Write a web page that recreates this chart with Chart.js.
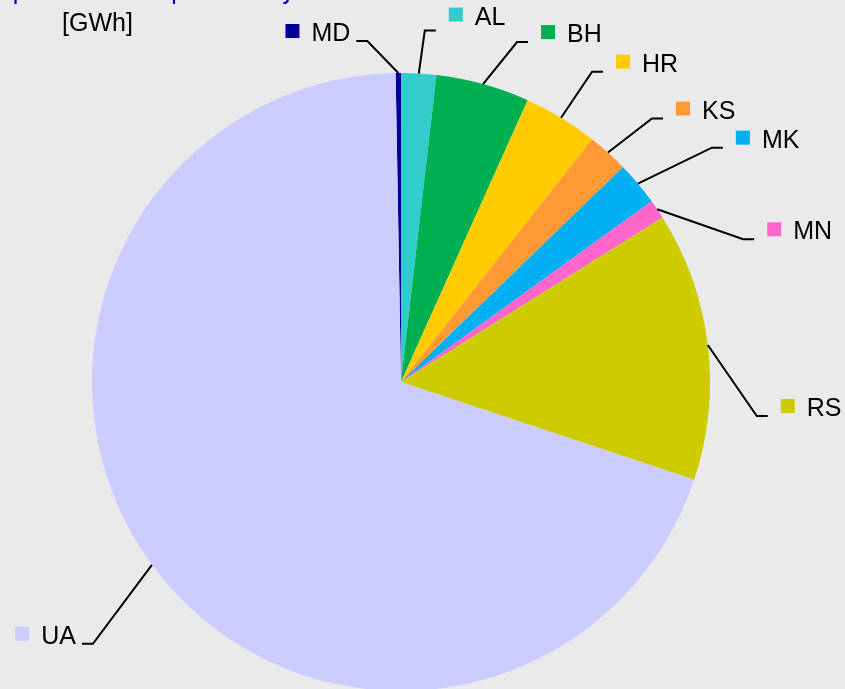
<!DOCTYPE html>
<html>
<head>
<meta charset="utf-8">
<script src="https://cdn.jsdelivr.net/npm/chart.js@4/dist/chart.umd.min.js"></script>
<style>
  html, body { margin: 0; padding: 0; background: #eaeaea; overflow: hidden; }
  #wrap { position: relative; width: 845px; height: 689px; }
</style>
</head>
<body>
<div id="wrap"><canvas id="c"></canvas></div>
<script>
// ---- data (GWh) ----
const categories = ['MD', 'AL', 'BH', 'HR', 'KS', 'MK', 'MN', 'RS', 'UA'];
const values     = [28, 183, 489, 389, 214, 231, 100, 1406, 6961];
const colors     = ['#000099', '#33cccc', '#00b050', '#ffcc00', '#ff9933', '#00b0f0', '#ff66cc', '#cccc00', '#ccccff'];
const titleText  = 'Import shares in percent: by member';
const unitText   = '[GWh]';

// ---- label layout (leader-line elbow offsets from slice anchor) ----
const labelLayout = [
  { dx: -31, dy: -32, side: 'left',  ty: 0 },
  { dx:   6, dy: -43, side: 'right', ty: -6 },
  { dx:  34, dy: -42, side: 'right', ty: 0 },
  { dx:  31, dy: -46, side: 'right', ty: 0 },
  { dx:  44, dy: -34, side: 'right', ty: 0 },
  { dx:  74, dy: -36, side: 'right', ty: 0 },
  { dx:  86, dy:  30, side: 'right', ty: 0 },
  { dx:  49, dy:  71, side: 'right', ty: 0 },
  { dx: -59, dy:  79, side: 'left',  ty: 0 }
];

const FONT = '25px "Liberation Sans", Arial, sans-serif';

const labelPlugin = {
  id: 'leaderLabels',
  afterDatasetsDraw(chart) {
    const ctx = chart.ctx;
    const meta = chart.getDatasetMeta(0);
    ctx.save();
    ctx.font = FONT;
    meta.data.forEach((arc, i) => {
      const p = arc.getProps(['x', 'y', 'startAngle', 'endAngle', 'outerRadius'], true);
      const mid = (p.startAngle + p.endAngle) / 2;
      const ax = p.x + Math.cos(mid) * p.outerRadius;
      const ay = p.y + Math.sin(mid) * p.outerRadius;
      const L = labelLayout[i];
      const ex = ax + L.dx, ey = ay + L.dy;
      const dir = L.side === 'left' ? -1 : 1;
      const sx = ex + dir * 11;
      ctx.strokeStyle = '#000';
      ctx.lineWidth = 2;
      ctx.beginPath();
      ctx.moveTo(ax, ay);
      ctx.lineTo(ex, ey);
      ctx.lineTo(sx, ey);
      ctx.stroke();
      const base = ey + L.ty;
      const text = categories[i];
      const w = ctx.measureText(text).width;
      let sqX, txX;
      if (dir > 0) {
        sqX = sx + 13;
        txX = sqX + 14 + 12;
      } else {
        txX = sx - 6 - w;
        sqX = txX - 12 - 14;
      }
      ctx.fillStyle = colors[i];
      ctx.fillRect(sqX, base - 17, 14, 14);
      ctx.fillStyle = '#000';
      ctx.textAlign = 'left';
      ctx.textBaseline = 'alphabetic';
      ctx.fillText(text, txX, base);
    });
    // title (mostly above the visible area) and unit
    ctx.fillStyle = '#0000cc';
    ctx.textAlign = 'left';
    ctx.textBaseline = 'alphabetic';
    ctx.fillText(titleText, -15, -1);
    ctx.fillStyle = '#000';
    ctx.fillText(unitText, 62, 31);
    ctx.restore();
  }
};

new Chart(document.getElementById('c'), {
  type: 'pie',
  data: {
    labels: categories,
    datasets: [{
      data: values,
      backgroundColor: colors,
      borderWidth: 0,
      hoverOffset: 0,
      offset: 0,
      clip: false
    }]
  },
  options: {
    responsive: true,
    maintainAspectRatio: false,
    animation: false,
    rotation: -1,
    radius: 309,
    layout: { padding: { left: 0, right: 43, top: 75, bottom: 0 } },
    plugins: {
      legend: { display: false },
      tooltip: { enabled: false },
      title: { display: false }
    }
  },
  plugins: [labelPlugin]
});
</script>
</body>
</html>
